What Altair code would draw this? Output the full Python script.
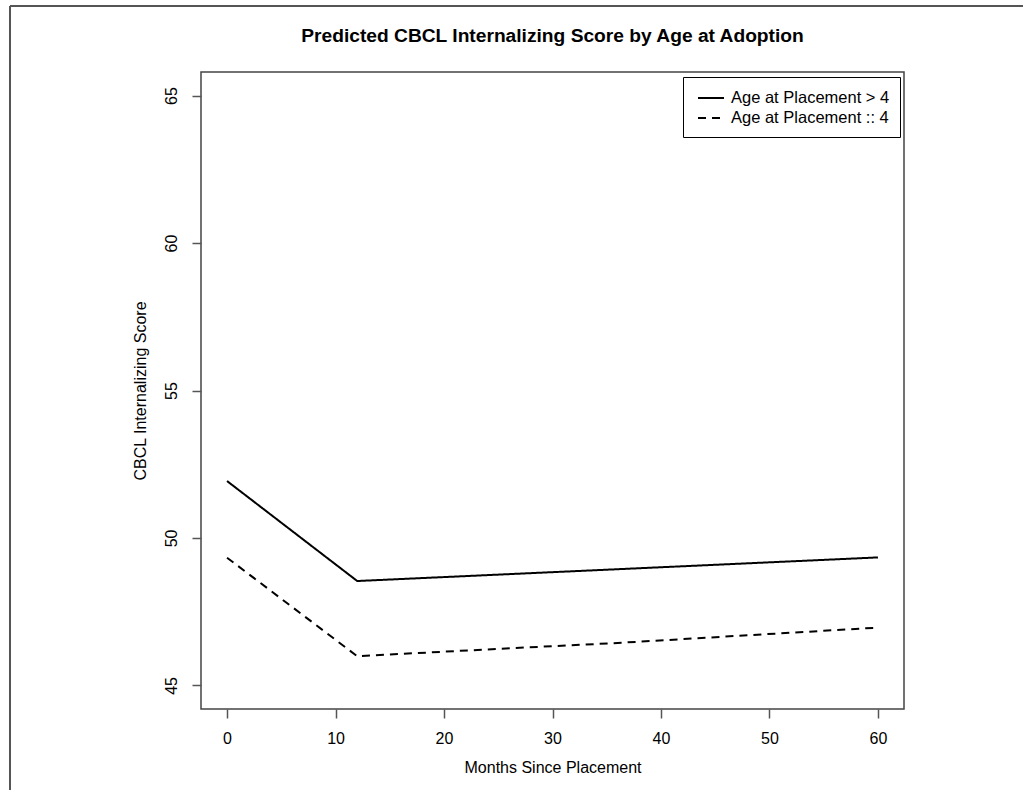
import altair as alt
import pandas as pd

months = [0, 12, 24, 36, 48, 60]
older = [51.93, 48.54, 48.74, 48.94, 49.14, 49.34]
younger = [49.33, 45.99, 46.22, 46.44, 46.70, 46.96]
groups = ["Age at Placement > 4", "Age at Placement :: 4"]
x_ticks = [0, 10, 20, 30, 40, 50, 60]
y_ticks = [45, 50, 55, 60, 65]
title_text = "Predicted CBCL Internalizing Score by Age at Adoption"

rows = []
for m, v in zip(months, older):
    rows.append({"month": m, "score": v, "group": groups[0]})
for m, v in zip(months, younger):
    rows.append({"month": m, "score": v, "group": groups[1]})
df = pd.DataFrame(rows)

FONT = "Liberation Sans"
W, H = 703, 637
PL, PT = 201, 72

lines = alt.Chart(df).mark_line(color="black", strokeWidth=2).encode(
    x=alt.X("month:Q", scale=alt.Scale(domain=[-2.4, 62.4], nice=False, zero=False),
            axis=alt.Axis(values=x_ticks, title="Months Since Placement", format="d")),
    y=alt.Y("score:Q", scale=alt.Scale(domain=[44.2, 65.8], nice=False, zero=False),
            axis=alt.Axis(values=y_ticks, title="CBCL Internalizing Score", format="d",
                          labelAngle=270, labelAlign="center", labelBaseline="bottom")),
    strokeDash=alt.StrokeDash("group:N",
        scale=alt.Scale(domain=groups, range=[[1, 0], [8, 6]]),
        legend=alt.Legend(orient="none", legendX=482, legendY=5, title=None,
                          strokeColor="black", fillColor="white", padding=10,
                          symbolType="M-0.6,0H2", symbolSize=400, symbolStrokeWidth=2,
                          symbolStrokeColor="black", labelFontSize=16.5, labelFont=FONT,
                          labelColor="black", rowPadding=0, labelOffset=16,
                          cornerRadius=0)),
    order="month:Q",
)

frame_data = alt.Data(values=[{"t": title_text}])
top_rule = alt.Chart(frame_data).mark_rule(color="#555", strokeWidth=2).encode(
    x=alt.value(10 - PL), x2=alt.value(1023 - PL), y=alt.value(6 - PT))
left_rule = alt.Chart(frame_data).mark_rule(color="#555", strokeWidth=2).encode(
    x=alt.value(10 - PL), y=alt.value(6 - PT), y2=alt.value(790 - PT))
title = alt.Chart(frame_data).mark_text(
    font=FONT, fontSize=19.2, fontWeight="bold", color="black",
    align="center", baseline="alphabetic").encode(
    text="t:N", x=alt.value(W / 2), y=alt.value(42 - PT))

chart = alt.layer(lines, top_rule, left_rule, title).properties(
    width=W, height=H,
    background="white",
    autosize=alt.AutoSizeParams(type="none"),
    padding={"left": PL, "top": PT, "right": 1023 - PL - W, "bottom": 790 - PT - H},
).configure_view(
    stroke="#444", strokeWidth=1.5
).configure_axis(
    domain=False, grid=False, tickSize=9, tickColor="#555", tickWidth=1.5,
    labelFont=FONT, labelFontSize=16, labelColor="black", labelPadding=12,
    titleFont=FONT, titleFontSize=16, titleFontWeight="normal", titleColor="black",
).configure_axisY(
    labelPadding=13, titlePadding=15,
).configure_axisX(
    titlePadding=13,
)

chart.save("out.html", embed_options={"renderer": "svg", "actions": False})
